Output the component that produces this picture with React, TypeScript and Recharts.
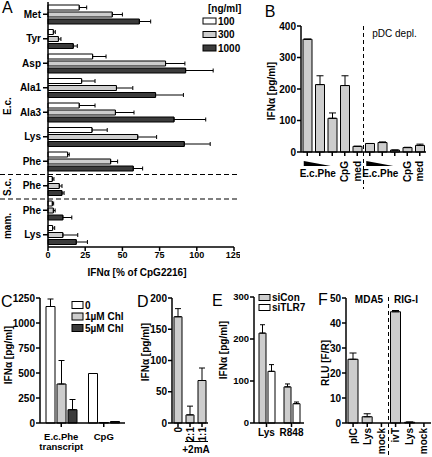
import React from "react";
import { BarChart, Bar, XAxis, YAxis, ErrorBar } from "recharts";

const FONT = "'Liberation Sans', Arial, Helvetica, sans-serif";
const INK = "#000000";
const WHITE = "#ffffff";
const LIGHT = "#cdcdcd";
const DARK = "#3b3b3b";

// A: IFNa as % of CpG2216, three doses per RNA
const aNames = ["Met", "Tyr", "Asp", "Ala1", "Ala3", "Lys", "Phe", "Phe", "Phe", "Lys"];
const aGroups = ["E.c.", "E.c.", "E.c.", "E.c.", "E.c.", "E.c.", "E.c.", "S.c.", "mam.", "mam."];
const a100 = [21, 3.6, 30, 22.6, 21, 29.6, 13.2, 2.9, 2.9, 3.1];
const a100Top = [26, 4.9, 39, 31.6, 31.6, 39.8, 14.3, 4, 3.8, 4.5];
const a300 = [43.2, 7, 79, 46, 45.3, 60.3, 42.1, 7.6, 3.6, 10];
const a300Top = [50, 8.7, 92, 57, 57.8, 73, 46.8, 9.4, 4.8, 20];
const a1000 = [61.4, 17, 92.5, 72.3, 84.7, 91.6, 57.3, 9.4, 10, 19];
const a1000Top = [69, 19.7, 111, 91, 106, 109, 63.6, 10.8, 16, 26.5];
const aTicks = [0, 25, 50, 75, 100, 125];

// B: PBMC vs pDC depleted
const bCats = ["hi", "mid", "lo", "cpg", "med", "dhi", "dmid", "dlo", "dcpg", "dmed"];
const bLabels = ["", "E.c.Phe", "", "CpG", "med", "", "E.c.Phe", "", "CpG", "med"];
const bValues = [358, 214, 107, 211, 18, 27, 30, 6, 14, 21];
const bTop = [358, 242, 124, 242, 18, 27, 32, 6, 15, 25];
const bTicks = [0, 100, 200, 300, 400];

// C: chloroquine
const cCats = ["E.c.Phe transcript", "CpG"];
const c0 = [1165, 495];
const c0Top = [1240, 495];
const c1 = [390, 5];
const c1Top = [625, 5];
const c5 = [133, 15];
const c5Top = [235, 15];
const cTicks = [0, 250, 500, 750, 1000, 1250];

// D: 2mA modification
const dCats = ["0", "2:1", "1:1"];
const dValues = [170, 13, 68];
const dTop = [183, 27, 88];
const dTicks = [0, 50, 100, 150, 200];

// E: siRNA
const eCats = ["Lys", "R848"];
const eCon = [214, 86];
const eConTop = [234, 93];
const eTlr7 = [123, 46];
const eTlr7Top = [139, 50];
const eTicks = [0, 100, 200, 300];

// F: reporter assay
const fCats = ["pIC", "Lys", "mock", "ivT", "Lys ", "mock "];
const fValues = [25.5, 2.5, 0, 44.5, 0.3, 0];
const fTop = [28, 3.7, 0, 45, 0.4, 0];
const fTicks = [0, 10, 20, 30, 40, 50];

const up = (v: number, top: number) => [0, Math.max(0, top - v)];

const aData = aNames.map((n, i) => ({
  id: `${aGroups[i]} ${n}`,
  v100: a100[i], e100: up(a100[i], a100Top[i]),
  v300: a300[i], e300: up(a300[i], a300Top[i]),
  v1000: a1000[i], e1000: up(a1000[i], a1000Top[i]),
}));
const bData = bCats.map((c, i) => ({ id: c, v: bValues[i], e: up(bValues[i], bTop[i]) }));
const cData = cCats.map((c, i) => ({
  id: c,
  v0: c0[i], e0: up(c0[i], c0Top[i]),
  v1: c1[i], e1: up(c1[i], c1Top[i]),
  v5: c5[i], e5: up(c5[i], c5Top[i]),
}));
const dData = dCats.map((c, i) => ({ id: c, v: dValues[i], e: up(dValues[i], dTop[i]) }));
const eData = eCats.map((c, i) => ({
  id: c,
  con: eCon[i], eCon: up(eCon[i], eConTop[i]),
  tlr: eTlr7[i], eTlr: up(eTlr7[i], eTlr7Top[i]),
}));
const fData = fCats.map((c, i) => ({ id: c, v: fValues[i], e: up(fValues[i], fTop[i]) }));

const axisLine = { stroke: INK, strokeWidth: 1.5 };
const numTick = (size: number) => ({ fontSize: size, fontWeight: 700, fill: INK, fontFamily: FONT });
const txt = { fontFamily: FONT, fontWeight: 700, fill: INK } as const;

const idx = (p: any) => (p.index ?? p.payload?.index ?? 0);

function RotLabel({ x, y, label, size = 10 }: any) {
  return (
    <text x={x} y={y} transform={`rotate(-90 ${x} ${y})`} textAnchor="end"
      dominantBaseline="central" fontSize={size} {...txt}>
      {label}
    </text>
  );
}

function BTick(props: any) {
  const { x, y } = props;
  const lab = bLabels[idx(props)];
  if (lab === "E.c.Phe") {
    return (
      <g>
        <polygon points={`${x - 16},${y + 3} ${x + 11},${y + 8} ${x - 16},${y + 8}`} fill={INK} />
        <text x={x - 2} y={y + 15} textAnchor="middle" dominantBaseline="central" fontSize={10} {...txt}>
          {lab}
        </text>
      </g>
    );
  }
  if (!lab) return <g />;
  return <RotLabel x={x} y={y + 3} label={lab} />;
}

function CTick(props: any) {
  const { x, y } = props;
  const lines = cCats[idx(props)].split(" ");
  return (
    <g>
      {lines.map((l, k) => (
        <text key={k} x={x} y={y + 7 + k * 10} textAnchor="middle" dominantBaseline="central" fontSize={9.5} {...txt}>
          {l}
        </text>
      ))}
    </g>
  );
}

function DTick(props: any) {
  return <RotLabel x={props.x} y={props.y} label={dCats[idx(props)]} />;
}

function ETick(props: any) {
  return (
    <text x={props.x} y={props.y + 3} textAnchor="middle" dominantBaseline="central" fontSize={10} {...txt}>
      {eCats[idx(props)]}
    </text>
  );
}

function FTick(props: any) {
  return <RotLabel x={props.x} y={props.y + 1} label={fCats[idx(props)].trim()} />;
}

const barProps = { stroke: INK, strokeWidth: 1, isAnimationActive: false };
const errProps = { stroke: INK, strokeWidth: 1, isAnimationActive: false };

function Panel({ left, top, children }: any) {
  return <div style={{ position: "absolute", left, top }}>{children}</div>;
}

function Label({ x, y, children, size = 10, bold = true, rotate = false, anchor = "middle" }: any) {
  return (
    <text x={x} y={y} textAnchor={anchor} dominantBaseline="central" fontSize={size}
      fontFamily={FONT} fontWeight={bold ? 700 : 400} fill={INK}
      transform={rotate ? `rotate(-90 ${x} ${y})` : undefined}>
      {children}
    </text>
  );
}

function Swatch({ x, y, fill, label, w = 13, h = 6 }: any) {
  return (
    <g>
      <rect x={x} y={y - h / 2} width={w} height={h} fill={fill} stroke={INK} strokeWidth={1} />
      <Label x={x + w + 2} y={y} anchor="start">{label}</Label>
    </g>
  );
}

export default function App() {
  return (
    <div style={{ position: "absolute", left: 0, top: 0, width: 432, height: 457, background: WHITE, overflow: "hidden" }}>
      <Panel left={0} top={0}>
        <BarChart layout="vertical" width={240} height={272} data={aData}
          margin={{ top: 2, right: 6, bottom: 0, left: 0 }} barSize={5} barGap={2}>
          <XAxis type="number" domain={[0, 125]} ticks={aTicks} height={25} tickSize={4} tickMargin={1}
            tick={numTick(9)} axisLine={axisLine} tickLine={axisLine} />
          <YAxis type="category" dataKey="id" width={48} tickSize={5} tickMargin={2} interval={0}
            tickFormatter={(_v: any, i: number) => aNames[i]}
            tick={numTick(10)} axisLine={axisLine} tickLine={axisLine} />
          <Bar dataKey="v100" fill={WHITE} {...barProps}>
            <ErrorBar dataKey="e100" width={2} direction="x" {...errProps} />
          </Bar>
          <Bar dataKey="v300" fill={LIGHT} {...barProps}>
            <ErrorBar dataKey="e300" width={2} direction="x" {...errProps} />
          </Bar>
          <Bar dataKey="v1000" fill={DARK} {...barProps}>
            <ErrorBar dataKey="e1000" width={2} direction="x" {...errProps} />
          </Bar>
        </BarChart>
      </Panel>

      <Panel left={240} top={0}>
        <BarChart width={192} height={230} data={bData}
          margin={{ top: 26, right: 6, bottom: 0, left: 0 }} barSize={9}>
          <XAxis dataKey="id" height={78} interval={0} tickSize={4} tickMargin={2}
            tick={BTick} axisLine={axisLine} tickLine={axisLine} />
          <YAxis domain={[0, 400]} ticks={bTicks} width={61} tickSize={4} tickMargin={1}
            tick={numTick(10)} axisLine={axisLine} tickLine={axisLine} />
          <Bar dataKey="v" fill={LIGHT} {...barProps}>
            <ErrorBar dataKey="e" width={3.5} direction="y" {...errProps} />
          </Bar>
        </BarChart>
      </Panel>

      <Panel left={0} top={290}>
        <BarChart width={135} height={167} data={cData}
          margin={{ top: 8, right: 10, bottom: 0, left: 0 }} barSize={9} barGap={2}>
          <XAxis dataKey="id" height={34} interval={0} tickSize={4} tickMargin={2}
            tick={CTick} axisLine={axisLine} tickLine={axisLine} />
          <YAxis domain={[0, 1250]} ticks={cTicks} width={40} tickSize={4} tickMargin={1}
            tick={numTick(10)} axisLine={axisLine} tickLine={axisLine} />
          <Bar dataKey="v0" fill={WHITE} {...barProps}>
            <ErrorBar dataKey="e0" width={3} direction="y" {...errProps} />
          </Bar>
          <Bar dataKey="v1" fill={LIGHT} {...barProps}>
            <ErrorBar dataKey="e1" width={3} direction="y" {...errProps} />
          </Bar>
          <Bar dataKey="v5" fill={DARK} {...barProps}>
            <ErrorBar dataKey="e5" width={3} direction="y" {...errProps} />
          </Bar>
        </BarChart>
      </Panel>

      <Panel left={140} top={290}>
        <BarChart width={72} height={167} data={dData}
          margin={{ top: 8, right: 4, bottom: 0, left: 0 }} barSize={8}>
          <XAxis dataKey="id" height={34} interval={0} tickSize={4} tickMargin={0}
            tick={DTick} axisLine={axisLine} tickLine={axisLine} />
          <YAxis domain={[0, 200]} ticks={dTicks} width={32} tickSize={4} tickMargin={1}
            tick={numTick(10)} axisLine={axisLine} tickLine={axisLine} />
          <Bar dataKey="v" fill={LIGHT} {...barProps}>
            <ErrorBar dataKey="e" width={3} direction="y" {...errProps} />
          </Bar>
        </BarChart>
      </Panel>

      <Panel left={220} top={290}>
        <BarChart width={88} height={167} data={eData}
          margin={{ top: 7, right: 4, bottom: 0, left: 0 }} barSize={7} barGap={2}>
          <XAxis dataKey="id" height={34} interval={0} tickSize={4} tickMargin={2}
            tick={ETick} axisLine={axisLine} tickLine={axisLine} />
          <YAxis domain={[0, 300]} ticks={eTicks} width={34} tickSize={4} tickMargin={1}
            tick={numTick(9.5)} axisLine={axisLine} tickLine={axisLine} />
          <Bar dataKey="con" fill={LIGHT} {...barProps}>
            <ErrorBar dataKey="eCon" width={2.5} direction="y" {...errProps} />
          </Bar>
          <Bar dataKey="tlr" fill={WHITE} {...barProps}>
            <ErrorBar dataKey="eTlr" width={2.5} direction="y" {...errProps} />
          </Bar>
        </BarChart>
      </Panel>

      <Panel left={310} top={290}>
        <BarChart width={122} height={167} data={fData}
          margin={{ top: 8, right: 1, bottom: 0, left: 0 }} barSize={10}>
          <XAxis dataKey="id" height={34} interval={0} tickSize={4} tickMargin={0}
            tick={FTick} axisLine={axisLine} tickLine={axisLine} />
          <YAxis domain={[0, 50]} ticks={fTicks} width={36} tickSize={4} tickMargin={1}
            tick={numTick(10)} axisLine={axisLine} tickLine={axisLine} />
          <Bar dataKey="v" fill={LIGHT} {...barProps}>
            <ErrorBar dataKey="e" width={3.5} direction="y" {...errProps} />
          </Bar>
        </BarChart>
      </Panel>

      <svg width={432} height={457} style={{ position: "absolute", left: 0, top: 0, pointerEvents: "none" }}>
        {/* A */}
        <Label x={2} y={7} size={16} bold={false} anchor="start">A</Label>
        <line x1={0} x2={240} y1={174.5} y2={174.5} stroke={INK} strokeWidth={1.2} strokeDasharray="5 3" />
        <line x1={0} x2={240} y1={199} y2={199} stroke={INK} strokeWidth={1.2} strokeDasharray="5 3" />
        <Label x={7} y={106} rotate>E.c.</Label>
        <Label x={7} y={187} rotate>S.c.</Label>
        <Label x={7} y={226} rotate>mam.</Label>
        <Label x={137} y={272}>IFNα [% of CpG2216]</Label>
        <Label x={208} y={8} anchor="start">[ng/ml]</Label>
        <Swatch x={203} y={21} fill={WHITE} label="100" />
        <Swatch x={203} y={34.5} fill={LIGHT} label="300" />
        <Swatch x={203} y={48} fill={DARK} label="1000" />

        {/* B */}
        <Label x={270} y={11} size={16} bold={false}>B</Label>
        <Label x={271} y={91} rotate>IFNα [pg/ml]</Label>
        <line x1={363.5} x2={363.5} y1={26} y2={189} stroke={INK} strokeWidth={1} strokeDasharray="4 3" />
        <Label x={394.5} y={33} bold={false}>pDC depl.</Label>

        {/* C */}
        <Label x={1} y={301} size={16} bold={false} anchor="start">C</Label>
        <Label x={8} y={355} rotate>IFNα [pg/ml]</Label>
        <Swatch x={72} y={305} w={11} h={7} fill={WHITE} label="0" />
        <Swatch x={72} y={316.5} w={11} h={7} fill={LIGHT} label="1µM Chl" />
        <Swatch x={72} y={328} w={11} h={7} fill={DARK} label="5µM Chl" />

        {/* D */}
        <Label x={137} y={301} size={16} bold={false} anchor="start">D</Label>
        <Label x={145} y={352} rotate>IFNα [pg/ml]</Label>
        <line x1={185} x2={208} y1={441.5} y2={441.5} stroke={INK} strokeWidth={1} />
        <Label x={196} y={449}>+2mA</Label>

        {/* E */}
        <Label x={212} y={300} size={16} bold={false} anchor="start">E</Label>
        <Label x={223} y={350} rotate>IFNα [pg/ml]</Label>
        <Swatch x={259} y={297.5} w={11} h={6} fill={LIGHT} label="siCon" />
        <Swatch x={259} y={307.5} w={11} h={6} fill={WHITE} label="siTLR7" />

        {/* F */}
        <Label x={318} y={299} size={16} bold={false} anchor="start">F</Label>
        <Label x={325} y={363} rotate>RLU [F/R]</Label>
        <line x1={388.5} x2={388.5} y1={297} y2={457} stroke={INK} strokeWidth={1} strokeDasharray="4 3" />
        <Label x={369} y={299}>MDA5</Label>
        <Label x={406} y={299}>RIG-I</Label>
      </svg>
    </div>
  );
}
